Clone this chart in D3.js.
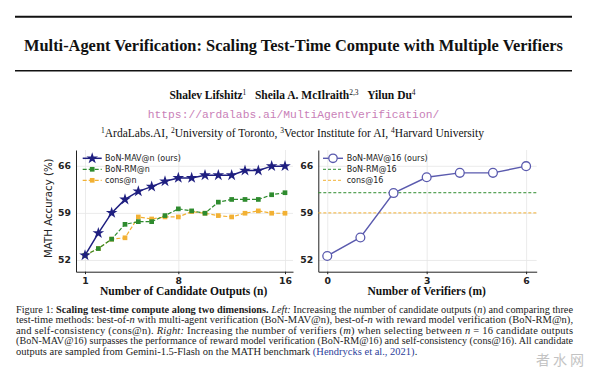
<!DOCTYPE html>
<html><head><meta charset="utf-8">
<script src="https://cdn.jsdelivr.net/npm/d3@7"></script>
<style>html,body{margin:0;padding:0;background:#fff;}svg{display:block;}</style>
</head><body>
<script>
// ---------- data ----------
const nValues = [1,2,3,4,5,6,7,8,9,10,11,12,13,14,15,16];
const mavN  = [52.7,56.0,59.0,61.0,62.2,62.9,63.7,64.2,64.2,64.6,64.6,64.6,65.3,65.3,65.95,65.95];
const rmN   = [52.7,53.7,55.1,57.3,57.7,57.7,58.6,59.6,59.3,58.95,60.6,61.0,61.0,61.0,61.7,62.0];
const consN = [52.7,53.7,55.1,55.3,58.4,58.1,58.4,58.4,59.2,58.95,58.6,58.4,58.95,59.3,58.95,58.95];
const mValues = [0,1,2,3,4,5,6];
const mav16 = [52.6,55.35,61.95,64.3,64.95,64.95,65.95];
const rm16 = 62.0;
const cons16 = 59.0;
const yTicks = [52,59,66];
const xTicksLeft = [1,8,16];
const xTicksRight = [0,3,6];
const seriesLeft = ["BoN-MAV@n (ours)","BoN-RM@n","cons@n"];
const seriesRight = ["BoN-MAV@16 (ours)","BoN-RM@16","cons@16"];

const W=600,H=369;
const svg=d3.select("body").append("svg").attr("width",W).attr("height",H);
svg.append("rect").attr("width",W).attr("height",H).attr("fill","#fff");

const SERIF="'Liberation Serif','Times New Roman',serif";
const SANS="'DejaVu Sans',sans-serif";
const cx=293.5;

// ---------- header ----------
svg.append("line").attr("x1",15).attr("x2",572).attr("y1",16.7).attr("y2",16.7).attr("stroke","#111").attr("stroke-width",2);
svg.append("line").attr("x1",15).attr("x2",572).attr("y1",70.7).attr("y2",70.7).attr("stroke","#111").attr("stroke-width",1.6);
svg.append("text").attr("x",24).attr("y",50.5).attr("font-family",SERIF).attr("font-weight","bold")
  .attr("font-size",17.5).attr("textLength",539).attr("lengthAdjust","spacingAndGlyphs").attr("fill","#111")
  .text("Multi-Agent Verification: Scaling Test-Time Compute with Multiple Verifiers");

const au=svg.append("text").attr("x",cx-1).attr("y",98.5).attr("text-anchor","middle").attr("font-family",SERIF)
  .attr("font-weight","bold").attr("font-size",11.5).attr("fill","#111");
function sup(t,el,s){el.append("tspan").attr("font-size",7.5).attr("dy",-4).attr("font-weight","normal").text(s);el.append("tspan").attr("dy",4).text(t);}
au.append("tspan").text("Shalev Lifshitz");
sup("\u00a0\u00a0\u00a0Sheila A. McIlraith",au,"1");
sup("\u00a0\u00a0\u00a0Yilun Du",au,"2,3");
au.append("tspan").attr("font-size",7.5).attr("dy",-4).attr("font-weight","normal").text("4");

svg.append("text").attr("x",cx).attr("y",118).attr("text-anchor","middle").attr("font-family","'Liberation Mono',monospace")
  .attr("font-size",11.3).attr("fill","#c97fb8").text("https://ardalabs.ai/MultiAgentVerification/");

const af=svg.append("text").attr("x",cx-1).attr("y",137).attr("text-anchor","middle").attr("font-family",SERIF)
  .attr("font-size",11.5).attr("fill","#111");
[["1","ArdaLabs.AI, "],["2","University of Toronto, "],["3","Vector Institute for AI, "],["4","Harvard University"]].forEach(([s,t])=>{
  af.append("tspan").attr("font-size",7.5).attr("dy",-4).text(s);
  af.append("tspan").attr("dy",4).text(t);
});

// ---------- scales ----------
const y=d3.scaleLinear().domain([50.26,68.35]).range([271.7,150]);
const xL=d3.scaleLinear().domain([0.325,16.6]).range([76,293]);
const xR=d3.scaleLinear().domain([-0.27,6.32]).range([318.3,536.7]);

const NAVY="#1f1f80", SLATE="#5a5aae", GREEN="#2e8b2e", ORANGE="#f2b134";
const fmt=d3.format("d");

function frame(x,xt){
  const g=svg.append("g");
  g.append("g").attr("transform",`translate(${x.range()[0]},0)`)
    .call(d3.axisLeft(y).tickValues(yTicks).tickSize(-(x.range()[1]-x.range()[0])).tickFormat(""))
    .call(s=>{s.select(".domain").remove();s.selectAll("line").attr("stroke","#e6e6e6").attr("stroke-width",0.8);});
  g.append("g").attr("transform",`translate(0,${y.range()[0]})`)
    .call(d3.axisBottom(x).tickValues(xt).tickSize(-(y.range()[0]-y.range()[1])).tickFormat(""))
    .call(s=>{s.select(".domain").remove();s.selectAll("line").attr("stroke","#e6e6e6").attr("stroke-width",0.8);});
  const ax=g.append("g").attr("transform",`translate(${x.range()[0]},0)`)
    .call(d3.axisLeft(y).tickValues(yTicks).tickFormat(fmt).tickSize(0).tickPadding(5).tickSizeOuter(0));
  const bx=g.append("g").attr("transform",`translate(0,${y.range()[0]})`)
    .call(d3.axisBottom(x).tickValues(xt).tickFormat(fmt).tickSize(2.5).tickPadding(3).tickSizeOuter(0));
  [ax,bx].forEach(a=>{
    a.select(".domain").attr("stroke","#222").attr("stroke-width",1);
    a.selectAll(".tick line").attr("stroke","#222");
    a.selectAll(".tick text").attr("font-family",SANS).attr("font-weight","bold").attr("font-size",9.3).attr("fill","#222");
  });
  return g;
}

// ---------- left chart ----------
frame(xL,xTicksLeft);
svg.append("text").attr("transform",`translate(52,${y(59.7)}) rotate(-90)`).attr("text-anchor","middle")
  .attr("font-family",SANS).attr("font-size",10.2).attr("fill","#222").text("MATH Accuracy (%)");
svg.append("text").attr("x",xL(8.4)).attr("y",294.5).attr("text-anchor","middle").attr("font-family",SERIF)
  .attr("font-weight","bold").attr("font-size",11.5).attr("fill","#111").text("Number of Candidate Outputs (n)");

const lineL=vals=>d3.line().x((d,i)=>xL(nValues[i])).y(d=>y(d))(vals);
const star=d3.symbol().type(d3.symbolStar).size(42);
const sq=d3.symbol().type(d3.symbolSquare).size(22);

svg.append("path").attr("d",lineL(consN)).attr("fill","none").attr("stroke",ORANGE).attr("stroke-width",1.2).attr("stroke-dasharray","4,2");
svg.selectAll(".pc").data(consN).join("path").attr("d",sq).attr("transform",(d,i)=>`translate(${xL(nValues[i])},${y(d)})`).attr("fill",ORANGE);
svg.append("path").attr("d",lineL(rmN)).attr("fill","none").attr("stroke",GREEN).attr("stroke-width",1.2).attr("stroke-dasharray","4,2");
svg.selectAll(".pr").data(rmN).join("path").attr("d",sq).attr("transform",(d,i)=>`translate(${xL(nValues[i])},${y(d)})`).attr("fill",GREEN);
svg.append("path").attr("d",lineL(mavN)).attr("fill","none").attr("stroke",NAVY).attr("stroke-width",1.5);
svg.selectAll(".pm").data(mavN).join("path").attr("d",star).attr("transform",(d,i)=>`translate(${xL(nValues[i])},${y(d)})`).attr("fill",NAVY);

const legL=svg.append("g");
[[NAVY,null,star],[GREEN,"4,2",sq],[ORANGE,"4,2",sq]].forEach(([c,da,sym],i)=>{
  const yy=158.3+i*11;
  legL.append("line").attr("x1",82.7).attr("x2",101.7).attr("y1",yy).attr("y2",yy).attr("stroke",c).attr("stroke-width",i?1.2:1.5).attr("stroke-dasharray",da);
  legL.append("path").attr("d",sym).attr("transform",`translate(92.2,${yy})`).attr("fill",c);
  legL.append("text").attr("x",105).attr("y",yy+3).attr("font-family",SANS).attr("font-size",8).attr("fill","#222").text(seriesLeft[i]);
});

// ---------- right chart ----------
frame(xR,xTicksRight);
svg.append("text").attr("x",xR(3)).attr("y",294.5).attr("text-anchor","middle").attr("font-family",SERIF)
  .attr("font-weight","bold").attr("font-size",11.5).attr("fill","#111").text("Number of Verifiers (m)");
svg.append("line").attr("x1",xR.range()[0]).attr("x2",xR.range()[1]).attr("y1",y(rm16)).attr("y2",y(rm16)).attr("stroke",GREEN).attr("stroke-width",1).attr("stroke-dasharray","3,2");
svg.append("line").attr("x1",xR.range()[0]).attr("x2",xR.range()[1]).attr("y1",y(cons16)).attr("y2",y(cons16)).attr("stroke",ORANGE).attr("stroke-width",1).attr("stroke-dasharray","3,2");
svg.append("path").attr("d",d3.line().x((d,i)=>xR(mValues[i])).y(d=>y(d))(mav16)).attr("fill","none").attr("stroke",SLATE).attr("stroke-width",1.4);
svg.selectAll(".cm").data(mav16).join("circle").attr("cx",(d,i)=>xR(mValues[i])).attr("cy",d=>y(d)).attr("r",4.4)
  .attr("fill","#fff").attr("stroke",SLATE).attr("stroke-width",1.3);

const legR=svg.append("g");
[[SLATE,null],[GREEN,"3,2"],[ORANGE,"3,2"]].forEach(([c,da],i)=>{
  const yy=158.3+i*11;
  legR.append("line").attr("x1",323).attr("x2",343).attr("y1",yy).attr("y2",yy).attr("stroke",c).attr("stroke-width",i?1:1.4).attr("stroke-dasharray",da);
  if(i===0) legR.append("circle").attr("cx",333).attr("cy",yy).attr("r",4.2).attr("fill","#fff").attr("stroke",c).attr("stroke-width",1.3);
  legR.append("text").attr("x",346.7).attr("y",yy+3).attr("font-family",SANS).attr("font-size",8).attr("fill","#222").text(seriesRight[i]);
});

// ---------- caption ----------
const capLines=[
  [["Figure 1:  ",""],["Scaling test-time compute along two dimensions.","b"],[" ",""],["Left:","i"],[" Increasing the number of candidate outputs (",""],["n","i"],[") and comparing three",""]],
  [["test-time methods: best-of-",""],["n","i"],[" with multi-agent verification (BoN-MAV@n), best-of-",""],["n","i"],[" with reward model verification (BoN-RM@n),",""]],
  [["and self-consistency (cons@n).  ",""],["Right:","i"],[" Increasing the number of verifiers (",""],["m","i"],[") when selecting between ",""],["n","i"],[" = 16 candidate outputs",""]],
  [["(BoN-MAV@16) surpasses the performance of reward model verification (BoN-RM@16) and self-consistency (cons@16). All candidate",""]],
  [["outputs are sampled from Gemini-1.5-Flash on the MATH benchmark ",""],["(Hendrycks et al., 2021)","c"],[".",""]]
];
const capTexts=capLines.map((parts,li)=>{
  const t=svg.append("text").attr("x",16).attr("y",312.5+li*10.6).attr("font-family",SERIF).attr("font-size",10).attr("fill","#222");
  parts.forEach(([s,st])=>{
    const sp=t.append("tspan").text(s);
    if(st==="b") sp.attr("font-weight","bold");
    if(st==="i") sp.attr("font-style","italic");
    if(st==="c") sp.attr("fill","#2c3e9a");
  });
  return t;
});
let fs=10*402/capTexts[4].node().getComputedTextLength();
fs=Math.min(Math.max(fs,9),11);
capTexts.forEach((t,li)=>{
  t.attr("font-size",fs);
  if(li<4){
    let w=t.node().getComputedTextLength();
    if(w>555){ t.attr("font-size",fs*555/w); }
    t.attr("textLength",557).attr("lengthAdjust","spacing");
  }
});

// watermark
svg.append("text").attr("x",536).attr("y",365).attr("font-family","'Noto Sans CJK SC',sans-serif").attr("font-size",14)
  .attr("letter-spacing",3).attr("fill","#888").attr("opacity",0.5).text("者水网");
</script>
</body></html>
